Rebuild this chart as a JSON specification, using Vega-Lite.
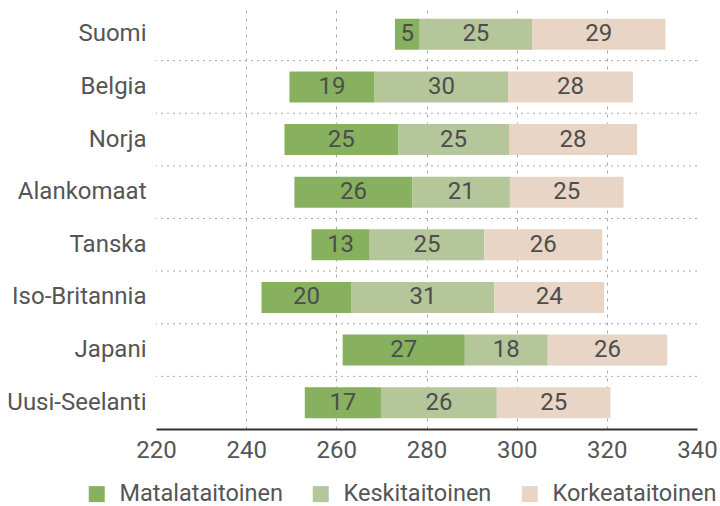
{
  "$schema": "https://vega.github.io/schema/vega-lite/v6.json",
  "width": 541,
  "height": 421,
  "autosize": {"type": "none"},
  "padding": {"left": 156, "top": 8, "right": 23, "bottom": 77},
  "background": "white",
  "config": {
    "view": {"stroke": null},
    "font": "Roboto",
    "axis": {"labelFont": "Roboto", "labelColor": "#555555", "labelFontSize": 24, "title": null}
  },
  "datasets": {
    "osuudet": [
      {"maa": "Suomi", "taso": "Matalataitoinen", "alku": 273.0, "loppu": 278.5, "osuus": 5},
      {"maa": "Suomi", "taso": "Keskitaitoinen", "alku": 278.5, "loppu": 303.4, "osuus": 25},
      {"maa": "Suomi", "taso": "Korkeataitoinen", "alku": 303.4, "loppu": 333.0, "osuus": 29},
      {"maa": "Belgia", "taso": "Matalataitoinen", "alku": 249.6, "loppu": 268.5, "osuus": 19},
      {"maa": "Belgia", "taso": "Keskitaitoinen", "alku": 268.5, "loppu": 298.1, "osuus": 30},
      {"maa": "Belgia", "taso": "Korkeataitoinen", "alku": 298.1, "loppu": 325.8, "osuus": 28},
      {"maa": "Norja", "taso": "Matalataitoinen", "alku": 248.5, "loppu": 273.7, "osuus": 25},
      {"maa": "Norja", "taso": "Keskitaitoinen", "alku": 273.7, "loppu": 298.3, "osuus": 25},
      {"maa": "Norja", "taso": "Korkeataitoinen", "alku": 298.3, "loppu": 326.7, "osuus": 28},
      {"maa": "Alankomaat", "taso": "Matalataitoinen", "alku": 250.7, "loppu": 276.9, "osuus": 26},
      {"maa": "Alankomaat", "taso": "Keskitaitoinen", "alku": 276.9, "loppu": 298.5, "osuus": 21},
      {"maa": "Alankomaat", "taso": "Korkeataitoinen", "alku": 298.5, "loppu": 323.7, "osuus": 25},
      {"maa": "Tanska", "taso": "Matalataitoinen", "alku": 254.5, "loppu": 267.4, "osuus": 13},
      {"maa": "Tanska", "taso": "Keskitaitoinen", "alku": 267.4, "loppu": 292.8, "osuus": 25},
      {"maa": "Tanska", "taso": "Korkeataitoinen", "alku": 292.8, "loppu": 319.0, "osuus": 26},
      {"maa": "Iso-Britannia", "taso": "Matalataitoinen", "alku": 243.4, "loppu": 263.4, "osuus": 20},
      {"maa": "Iso-Britannia", "taso": "Keskitaitoinen", "alku": 263.4, "loppu": 295.0, "osuus": 31},
      {"maa": "Iso-Britannia", "taso": "Korkeataitoinen", "alku": 295.0, "loppu": 319.4, "osuus": 24},
      {"maa": "Japani", "taso": "Matalataitoinen", "alku": 261.4, "loppu": 288.5, "osuus": 27},
      {"maa": "Japani", "taso": "Keskitaitoinen", "alku": 288.5, "loppu": 306.9, "osuus": 18},
      {"maa": "Japani", "taso": "Korkeataitoinen", "alku": 306.9, "loppu": 333.4, "osuus": 26},
      {"maa": "Uusi-Seelanti", "taso": "Matalataitoinen", "alku": 253.0, "loppu": 269.9, "osuus": 17},
      {"maa": "Uusi-Seelanti", "taso": "Keskitaitoinen", "alku": 269.9, "loppu": 295.6, "osuus": 26},
      {"maa": "Uusi-Seelanti", "taso": "Korkeataitoinen", "alku": 295.6, "loppu": 320.8, "osuus": 25}
    ],
    "erottimet": [
      {"maa": "Suomi"}, {"maa": "Belgia"}, {"maa": "Norja"}, {"maa": "Alankomaat"},
      {"maa": "Tanska"}, {"maa": "Iso-Britannia"}, {"maa": "Japani"}
    ]
  },
  "layer": [
    {
      "data": {"name": "erottimet"},
      "mark": {"type": "rule", "color": "#aaaaaa", "strokeWidth": 1, "strokeDash": [2, 4]},
      "encoding": {
        "y": {
          "field": "maa", "type": "nominal", "bandPosition": 1.347,
          "sort": ["Suomi", "Belgia", "Norja", "Alankomaat", "Tanska", "Iso-Britannia", "Japani", "Uusi-Seelanti"]
        }
      }
    },
    {
      "data": {"name": "osuudet"},
      "mark": {"type": "bar"},
      "encoding": {
        "y": {
          "field": "maa", "type": "nominal",
          "sort": ["Suomi", "Belgia", "Norja", "Alankomaat", "Tanska", "Iso-Britannia", "Japani", "Uusi-Seelanti"],
          "scale": {"paddingInner": 0.41, "paddingOuter": 0.205},
          "axis": {"domain": false, "ticks": false, "labelPadding": 10, "grid": false}
        },
        "x": {
          "field": "alku", "type": "quantitative",
          "scale": {"domain": [220, 340], "zero": false, "nice": false},
          "axis": {
            "values": [220, 240, 260, 280, 300, 320, 340],
            "ticks": false, "labelPadding": 9, "labelFlush": false,
            "domainColor": "#333333", "domainWidth": 2,
            "grid": true, "gridColor": "#aaaaaa", "gridDash": [3, 5], "gridWidth": 1,
            "gridOpacity": {"condition": {"test": "datum.value === 220 || datum.value === 340", "value": 0}, "value": 1}
          }
        },
        "x2": {"field": "loppu"},
        "color": {
          "field": "taso", "type": "nominal",
          "sort": ["Matalataitoinen", "Keskitaitoinen", "Korkeataitoinen"],
          "scale": {"domain": ["Matalataitoinen", "Keskitaitoinen", "Korkeataitoinen"], "range": ["#87b15f", "#b5c69b", "#e8d5c6"]},
          "legend": {
            "title": null, "orient": "none", "direction": "horizontal",
            "legendX": -71, "legendY": 474, "padding": 0,
            "symbolType": "square", "symbolSize": 256, "symbolStrokeWidth": 0,
            "symbolOpacity": 1,
            "labelFont": "Roboto", "labelFontSize": 23.5, "labelColor": "#555555",
            "labelOffset": 11, "columnPadding": 26, "labelLimit": 300
          }
        }
      }
    },
    {
      "data": {"name": "osuudet"},
      "transform": [{"calculate": "(datum.alku + datum.loppu) / 2", "as": "keski"}],
      "mark": {"type": "text", "font": "Roboto", "fontSize": 24, "color": "#4d4d4d", "baseline": "middle", "align": "center"},
      "encoding": {
        "y": {
          "field": "maa", "type": "nominal",
          "sort": ["Suomi", "Belgia", "Norja", "Alankomaat", "Tanska", "Iso-Britannia", "Japani", "Uusi-Seelanti"]
        },
        "x": {"field": "keski", "type": "quantitative"},
        "text": {"field": "osuus", "type": "quantitative"}
      }
    }
  ]
}
